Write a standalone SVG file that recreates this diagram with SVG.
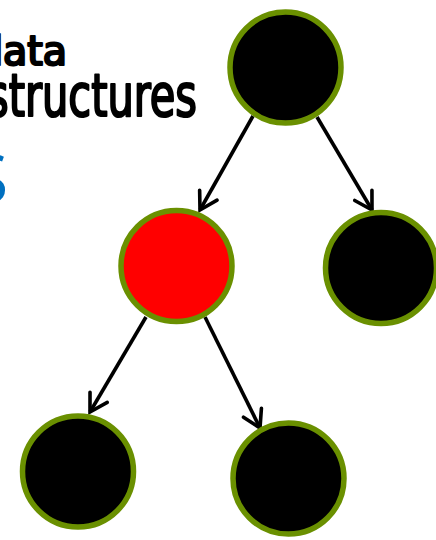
<svg xmlns="http://www.w3.org/2000/svg" width="436" height="540" viewBox="0 0 436 540">
<style>
.node{stroke:#6A9000;stroke-width:5.5}
.blk{fill:#000}
.red{fill:#FF0000}
.edge{stroke:#000;stroke-width:3.6;fill:none;marker-end:url(#arr)}
.hand{font-family:"DejaVu Sans Condensed","DejaVu Sans",sans-serif;fill:#000;stroke:#000;stroke-width:2.2;stroke-linejoin:round}
</style>
<defs>
<marker id="arr" markerUnits="userSpaceOnUse" markerWidth="40" markerHeight="40" refX="0" refY="0" orient="auto" overflow="visible">
<path d="M-17,-10 L0,0 L-17,10" fill="none" stroke="#000" stroke-width="3.6" stroke-linecap="round" stroke-linejoin="miter"/>
</marker>
</defs>
<rect width="436" height="540" fill="#fff"/>
<g id="title">
<text class="hand" x="-22" y="65" font-size="40" textLength="89" lengthAdjust="spacingAndGlyphs">data</text>
<text class="hand" x="-13" y="116" font-size="58" textLength="210" lengthAdjust="spacingAndGlyphs">structures</text>
<text x="-29" y="203" font-family="'Open Sans','DejaVu Sans',sans-serif" font-size="68" fill="#0070C0">S</text>
</g>
<g id="connectors">
<line class="edge" x1="253" y1="116" x2="200" y2="210"/>
<line class="edge" x1="317" y1="117" x2="372" y2="210"/>
<line class="edge" x1="146" y1="317" x2="90" y2="412"/>
<line class="edge" x1="205" y1="317" x2="260" y2="428"/>
</g>
<g id="root"><circle class="node blk" cx="285.5" cy="67.5" r="55.5"/></g>
<g id="left"><circle class="node red" cx="176.5" cy="266" r="55.5"/></g>
<g id="right"><circle class="node blk" cx="381" cy="268" r="55.5"/></g>
<g id="leftleft"><circle class="node blk" cx="78" cy="471.5" r="55.5"/></g>
<g id="leftright"><circle class="node blk" cx="288.5" cy="478.5" r="55.5"/></g>
</svg>
